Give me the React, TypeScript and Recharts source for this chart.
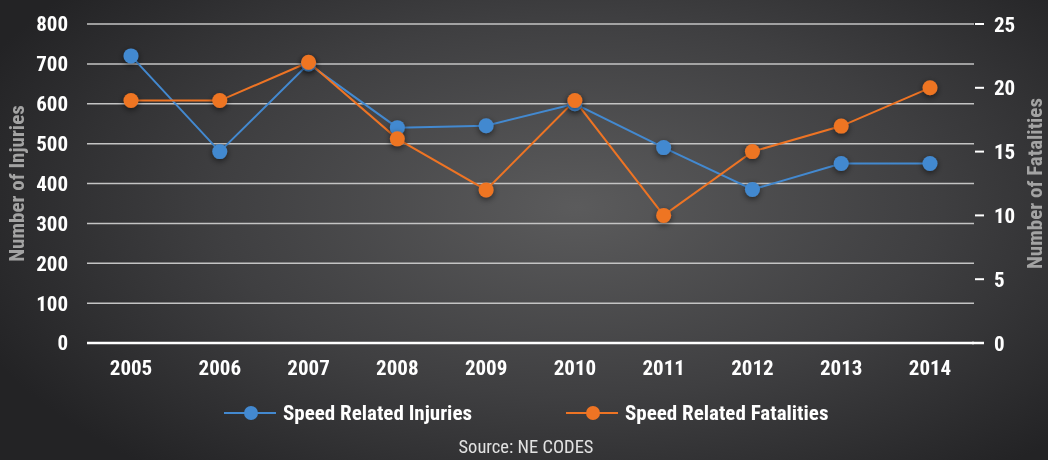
import React from 'react';
import { LineChart, Line, XAxis, YAxis, CartesianGrid } from 'recharts';

const years = ['2005', '2006', '2007', '2008', '2009', '2010', '2011', '2012', '2013', '2014'];
const injuries = [720, 480, 700, 540, 545, 600, 490, 385, 450, 450];
const fatalities = [19, 19, 22, 16, 12, 19, 10, 15, 17, 20];
const injuryTicks = [0, 100, 200, 300, 400, 500, 600, 700, 800];
const fatalityTicks = [0, 5, 10, 15, 20, 25];

const BLUE = '#4389d0';
const ORANGE = '#ee7424';
const FONT = "'Roboto Condensed', 'Liberation Sans Narrow', 'DejaVu Sans Condensed', Roboto, sans-serif";

const data = years.map((y, i) => ({ year: y, injuries: injuries[i], fatalities: fatalities[i] }));

function RightTick(props: any) {
  const { x, y, payload } = props;
  const isZero = payload.value === 0;
  return (
    <g>
      <line x1={isZero ? x - 2 : x + 1} x2={x + 10} y1={y} y2={y}
        stroke="#ffffff" strokeWidth={isZero ? 2.5 : 2} />
      <text x={x + 20} y={y} dy="0.36em" textAnchor="start" fill="#ffffff"
        fontFamily={FONT} fontWeight={700} fontSize={21}>
        {payload.value}
      </text>
    </g>
  );
}

function axisTitle(text: string, side: 'left' | 'right') {
  return {
    content: (props: any) => {
      const vb = props.viewBox || {};
      const cx = side === 'left' ? vb.x + 17 : vb.x + vb.width - 13;
      const cy = vb.y + vb.height / 2;
      return (
        <text x={cx} y={cy} transform={`rotate(-90 ${cx} ${cy})`} textAnchor="middle"
          dominantBaseline="central" fill="#a3a3a3" fontFamily={FONT} fontWeight={700} fontSize={21}>
          {text}
        </text>
      );
    },
  };
}

function LegendItem({ color, label, left }: { color: string; label: string; left: number }) {
  return (
    <div style={{ position: 'absolute', left, top: 400, height: 26, display: 'flex', alignItems: 'center' }}>
      <svg width={54} height={26} style={{ display: 'block' }}>
        <line x1={0} x2={52} y1={13} y2={13} stroke={color} strokeWidth={2} />
        <circle cx={27} cy={13} r={7} fill={color} />
      </svg>
      <span style={{ marginLeft: 5, color: '#ffffff', fontFamily: FONT, fontWeight: 700, fontSize: 21 }}>
        {label}
      </span>
    </div>
  );
}

export default function App() {
  return (
    <div style={{
      position: 'fixed', left: 0, top: 0, width: 1048, height: 460, overflow: 'hidden',
      background: 'radial-gradient(ellipse 62% 75% at 55% 45%, #5b5b5c 0%, #3f3f41 55%, #232325 100%)',
    }}>
      <LineChart width={1048} height={460} data={data}
        margin={{ top: 24, right: 0, left: 0, bottom: 0 }}>
        <defs>
          <filter id="dotShadow" x="-100%" y="-100%" width="300%" height="300%">
            <feDropShadow dx="0" dy="2" stdDeviation="3" floodColor="#000000" floodOpacity="0.55" />
          </filter>
        </defs>
        <CartesianGrid yAxisId="left" vertical={false} stroke="#c4c4c4" strokeWidth={1.5} />
        <XAxis dataKey="year" height={117} padding={{ left: 44, right: 44 }}
          axisLine={{ stroke: '#ffffff', strokeWidth: 2.5 }}
          tickLine={false} tickMargin={11}
          tick={{ fill: '#ffffff', fontFamily: FONT, fontWeight: 700, fontSize: 21 }} />
        <YAxis yAxisId="left" width={87} domain={[0, 800]} ticks={injuryTicks}
          axisLine={false} tickLine={false} tickMargin={13}
          tick={{ fill: '#ffffff', fontFamily: FONT, fontWeight: 700, fontSize: 21 }}
          label={axisTitle('Number of Injuries', 'left')} />
        <YAxis yAxisId="right" orientation="right" width={74} domain={[0, 25]} ticks={fatalityTicks}
          axisLine={false} tickLine={false} tickSize={0} tickMargin={0}
          tick={<RightTick />}
          label={axisTitle('Number of Fatalities', 'right')} />
        <Line yAxisId="left" dataKey="injuries" name="Speed Related Injuries" type="linear"
          stroke={BLUE} strokeWidth={2}
          dot={{ r: 7.5, fill: BLUE, stroke: 'none', filter: 'url(#dotShadow)' }}
          activeDot={false} isAnimationActive={false} />
        <Line yAxisId="right" dataKey="fatalities" name="Speed Related Fatalities" type="linear"
          stroke={ORANGE} strokeWidth={2}
          dot={{ r: 7.5, fill: ORANGE, stroke: 'none', filter: 'url(#dotShadow)' }}
          activeDot={false} isAnimationActive={false} />
      </LineChart>
      <LegendItem color={BLUE} label="Speed Related Injuries" left={224} />
      <LegendItem color={ORANGE} label="Speed Related Fatalities" left={566} />
      <div style={{
        position: 'absolute', left: 0, width: 1052, top: 436, textAlign: 'center',
        color: '#e2e2e2', fontFamily: FONT, fontSize: 18.5,
      }}>
        Source: NE CODES
      </div>
    </div>
  );
}
